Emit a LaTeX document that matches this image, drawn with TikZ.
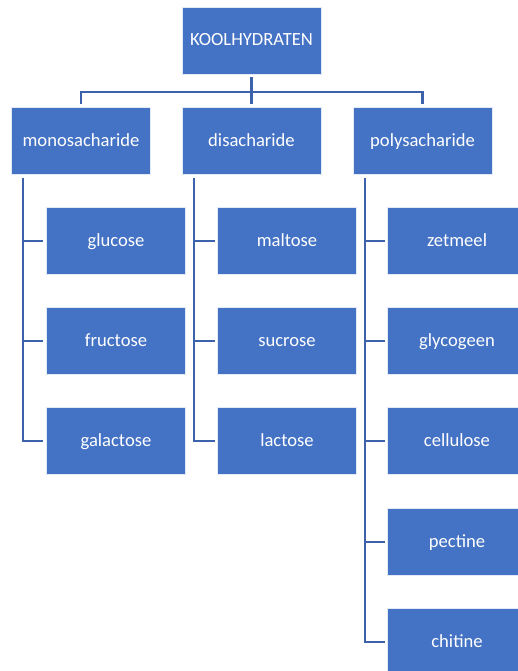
\documentclass[tikz,border=0pt]{standalone}
\usepackage{fontspec}
\setmainfont{Carlito}
\usetikzlibrary{calc}
\definecolor{boxblue}{RGB}{68,114,196}
\definecolor{lineblue}{RGB}{60,98,172}
\tikzset{
  box/.style={rectangle, fill=boxblue, draw=white!85!boxblue, line width=0.8bp,
    minimum width=139bp, minimum height=67bp, inner sep=0pt, outer sep=0pt,
    text height=14bp, text depth=3bp,
    text=white, font=\fontsize{18.6bp}{22bp}\selectfont},
  conn/.style={draw=lineblue, line width=2.2bp, line join=miter}
}
\begin{document}
\begin{tikzpicture}[x=1bp,y=-1bp]
\useasboundingbox (0,0) rectangle (518,671);
\clip (0,0) rectangle (518,671);
\fill[white] (0,0) rectangle (518,671);
% nodes
\node[box] (top) at (251.5,40.5) {KOOLHYDRATEN};
\node[box] (mono) at (81,141) {monosacharide};
\node[box] (di) at (251.5,141) {disacharide};
\node[box] (poly) at (422.5,141) {polysacharide};
\node[box] (glu) at (116,241) {glucose};
\node[box] (fru) at (116,341) {fructose};
\node[box] (gal) at (116,441) {galactose};
\node[box] (mal) at (287,241) {maltose};
\node[box] (suc) at (287,341) {sucrose};
\node[box] (lac) at (287,441) {lactose};
\node[box] (zet) at (457,241) {zetmeel};
\node[box] (gly) at (457,341) {glycogeen};
\node[box] (cel) at (457,441) {cellulose};
\node[box] (pec) at (457,542) {pectine};
\node[box] (chi) at (457,642) {chitine};
% top connectors
\coordinate (ts) at ($(top.south)+(0,3)$);
\coordinate (hb) at ($(top.south)+(0,18)$);
\draw[conn] (ts) -- (hb);
\draw[conn] ($(mono.north)+(0,-3)$) |- (hb -| poly.north) -- ($(poly.north)+(0,-3)$);
\draw[conn] (hb) -- ($(di.north)+(0,-3)$);
% bus coordinates
\coordinate (mb) at ($(mono.south west)+(11.5,3)$);
\coordinate (db) at ($(di.south west)+(12,3)$);
\coordinate (pb) at ($(poly.south west)+(12,3)$);
% mono
\draw[conn] (mb) |- ($(gal.west)+(-3,0)$);
\draw[conn] (mb |- glu.west) -- ($(glu.west)+(-3,0)$);
\draw[conn] (mb |- fru.west) -- ($(fru.west)+(-3,0)$);
% di
\draw[conn] (db) |- ($(lac.west)+(-3,0)$);
\draw[conn] (db |- mal.west) -- ($(mal.west)+(-3,0)$);
\draw[conn] (db |- suc.west) -- ($(suc.west)+(-3,0)$);
% poly
\draw[conn] (pb) |- ($(chi.west)+(-3,0)$);
\draw[conn] (pb |- zet.west) -- ($(zet.west)+(-3,0)$);
\draw[conn] (pb |- gly.west) -- ($(gly.west)+(-3,0)$);
\draw[conn] (pb |- cel.west) -- ($(cel.west)+(-3,0)$);
\draw[conn] (pb |- pec.west) -- ($(pec.west)+(-3,0)$);
\end{tikzpicture}
\end{document}
